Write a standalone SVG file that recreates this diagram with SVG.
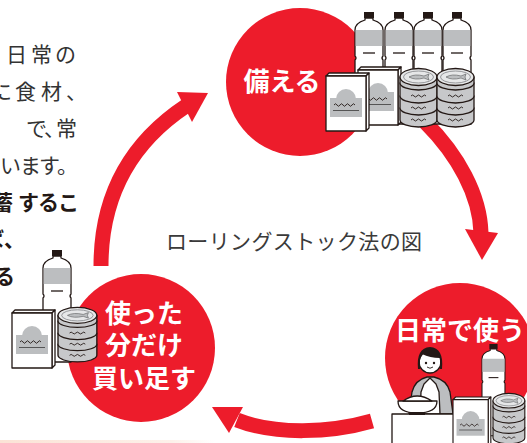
<svg xmlns="http://www.w3.org/2000/svg" xmlns:xlink="http://www.w3.org/1999/xlink" width="527" height="443" viewBox="0 0 527 443">
  <style>
    .body { font-family: "Noto Sans CJK JP", "Noto Sans", sans-serif; font-size: 21px; fill: #333; }
    .bold { font-weight: 700; fill: #231815; }
    .label { font-family: "Noto Sans CJK JP", "Noto Sans", sans-serif; font-weight: 700; font-size: 26px; fill: #fff; text-anchor: middle; }
    .title { font-family: "Noto Sans CJK JP", "Noto Sans", sans-serif; font-size: 21px; fill: #3a3a3a; }
    .red { fill: #ed1c2b; }
    .arc { fill: none; stroke: #ed1c2b; stroke-width: 15; }
    .ink { stroke: #231815; stroke-width: 1.3; stroke-linejoin: round; }
    .thin { fill: none; stroke: #231815; stroke-width: 0.9; }
    .gray { fill: #bcbec0; }
  </style>
  <defs>
    <linearGradient id="peach" x1="0" x2="1" y1="0" y2="0">
      <stop offset="0" stop-color="#fbe3d6"/>
      <stop offset="0.8" stop-color="#fdf1ea"/>
      <stop offset="1" stop-color="#ffffff"/>
    </linearGradient>
    <!-- PET bottle, 28 wide -->
    <g id="bottle">
      <path class="ink" fill="#fff" d="M10,6 L18,6 L18,8 Q28,11 28,18 L28,44 Q26,46 28,48 L28,112 L0,112 L0,48 Q2,46 0,44 L0,18 Q0,11 10,8 Z"/>
      <rect class="gray" x="0.7" y="18" width="26.6" height="16"/>
      <rect x="9" y="0" width="10" height="6" fill="#231815"/>
      <line class="ink" x1="8" y1="41" x2="20" y2="41"/>
    </g>
    <!-- retort pouch carton, 43 x 58 -->
    <g id="box">
      <polygon class="ink" fill="#fff" points="0,3 3,0 43,0 40,3"/>
      <polygon class="ink" fill="#fff" points="40,3 43,0 43,55 40,58"/>
      <rect class="ink" fill="#fff" x="0" y="3" width="40" height="55"/>
      <rect class="gray" x="4" y="25" width="32" height="19"/>
      <path class="gray" d="M10,26 A10,10 0 0 1 30,26 Z"/>
      <path class="thin" d="M8,32 q1.5,-2.5 3,0 t3,0 t3,0 t3,0 t3,0 t3,0 t3,0"/>
      <line x1="7" y1="37.5" x2="33" y2="37.5" stroke="#555" stroke-width="1"/>
    </g>
    <!-- stack of four tins, 37 wide -->
    <g id="cans">
      <path class="ink" fill="#c7c8ca" d="M0,40 L0,52 A18.5,7 0 0 0 37,52 L37,40 Z"/>
      <path class="thin" d="M11,52 q1.5,-2 3,0 t3,0 t3,0 t3,0 t3,0"/>
      <path class="ink" fill="#c7c8ca" d="M0,28 L0,40 A18.5,7 0 0 0 37,40 L37,28 Z"/>
      <path class="thin" d="M11,40 q1.5,-2 3,0 t3,0 t3,0 t3,0 t3,0"/>
      <path class="ink" fill="#c7c8ca" d="M0,15 L0,28 A18.5,7 0 0 0 37,28 L37,15 Z"/>
      <path class="thin" d="M11,28 q1.5,-2 3,0 t3,0 t3,0 t3,0 t3,0"/>
      <path class="ink" fill="#c7c8ca" d="M0,9 L0,15 A18.5,7 0 0 0 37,15 L37,9 Z"/>
      <ellipse class="ink" fill="#e6e7e8" cx="18.5" cy="9" rx="18.5" ry="8.5"/>
      <ellipse fill="none" stroke="#808285" stroke-width="0.8" cx="18.5" cy="9" rx="15" ry="6"/>
      <path fill="#bcbec0" stroke="#58595b" stroke-width="0.6" d="M9,9 Q15,5.5 24,8 L29,6 L28,9 L29,12 L24,10 Q15,12.5 9,9 Z"/>
    </g>
  </defs>

  <!-- body copy running in from the left edge -->
  <g id="copy">
    <text class="body" x="6 31 55" y="62">日常の</text>
    <text class="body" x="-9 15 41 66" y="99">に食材、</text>
    <text class="body" x="26 44 56" y="136">で、常</text>
    <text class="body" x="0 20 39 57" y="173">います。</text>
    <text class="body bold" x="-8 18 38 58" y="210">蓄するこ</text>
    <text class="body bold" x="-17 4" y="247">ば、</text>
    <text class="body bold" x="-6" y="284">る</text>
    <rect x="0" y="440" width="215" height="3" fill="url(#peach)"/>
  </g>

  <!-- cycle arrows -->
  <g id="connectors">
    <path class="arc" d="M101,266 C101,190 135,140 186,106"/>
    <polygon class="red" points="208,93 177,92 192,122"/>
    <path class="arc" d="M425,122 C458,155 480,195 481,233"/>
    <polygon class="red" points="482,260 465,229 498,233"/>
    <path class="arc" d="M372,421 C330,433 275,435 237,420"/>
    <polygon class="red" points="212,407 243,407 229,433"/>
  </g>

  <text id="caption" class="title" x="166" y="249" textLength="256" lengthAdjust="spacing">ローリングストック法の図</text>

  <!-- stage 1: stock up -->
  <g id="node-stock">
    <circle class="red" cx="300" cy="82" r="74"/>
    <text class="label" x="282" y="91">備える</text>
    <use xlink:href="#bottle" transform="translate(355,12)"/>
    <use xlink:href="#bottle" transform="translate(385,12)"/>
    <use xlink:href="#bottle" transform="translate(414,12)"/>
    <use xlink:href="#bottle" transform="translate(443,12)"/>
    <use xlink:href="#box" transform="translate(358,67)"/>
    <use xlink:href="#box" transform="translate(326,73)"/>
    <use xlink:href="#cans" transform="translate(400,68)"/>
    <use xlink:href="#cans" transform="translate(437,68)"/>
  </g>

  <!-- stage 2: everyday use -->
  <g id="node-use">
    <circle class="red" cx="460" cy="358" r="75"/>
    <text class="label" x="460" y="340">日常で使う</text>
    <!-- cook -->
    <path class="ink gray" d="M409,414 L412,392 Q415,380 427,377 L434,377 Q447,380 450,392 L453,414 Z"/>
    <path class="ink" fill="#fff" d="M420,414 L421,392 L424,384 L430,378 L436,384 L439,392 L440,414 Z"/>
    <circle class="ink" fill="#fff" cx="430" cy="362" r="11"/>
    <path fill="#231815" d="M418,369 Q416,348 430,347 Q444,348 442,369 L440,369 L440,358 Q430,358 422,354 L420,360 L420,369 Z"/>
    <circle cx="426" cy="363" r="1.2" fill="#231815"/>
    <circle cx="434" cy="363" r="1.2" fill="#231815"/>
    <path class="thin" d="M427,367 Q430,369.5 433,367"/>
    <use xlink:href="#bottle" transform="translate(482,344) scale(0.82)"/>
    <rect class="ink" fill="#fff" x="392" y="414" width="70" height="40"/>
    <!-- bowl of rice -->
    <path class="ink" fill="#fff" d="M398,401 Q398,413 417,413 Q437,413 437,401 Z"/>
    <path class="ink" fill="#fff" d="M403,401 Q417,391 432,401 Z"/>
    <rect x="409" y="412" width="16" height="3" fill="#231815"/>
    <use xlink:href="#box" transform="translate(453,397) scale(0.88)"/>
    <use xlink:href="#cans" transform="translate(493,393) scale(0.86)"/>
  </g>

  <!-- stage 3: buy back what was used -->
  <g id="node-restock">
    <circle class="red" cx="141" cy="348" r="74"/>
    <text class="label" x="144" y="323">使った</text>
    <text class="label" x="144" y="355">分だけ</text>
    <text class="label" x="144" y="388">買い足す</text>
    <use xlink:href="#bottle" transform="translate(43,250)"/>
    <use xlink:href="#box" transform="translate(12,310)"/>
    <use xlink:href="#cans" transform="translate(58,307) scale(1.05 0.93)"/>
  </g>
</svg>
